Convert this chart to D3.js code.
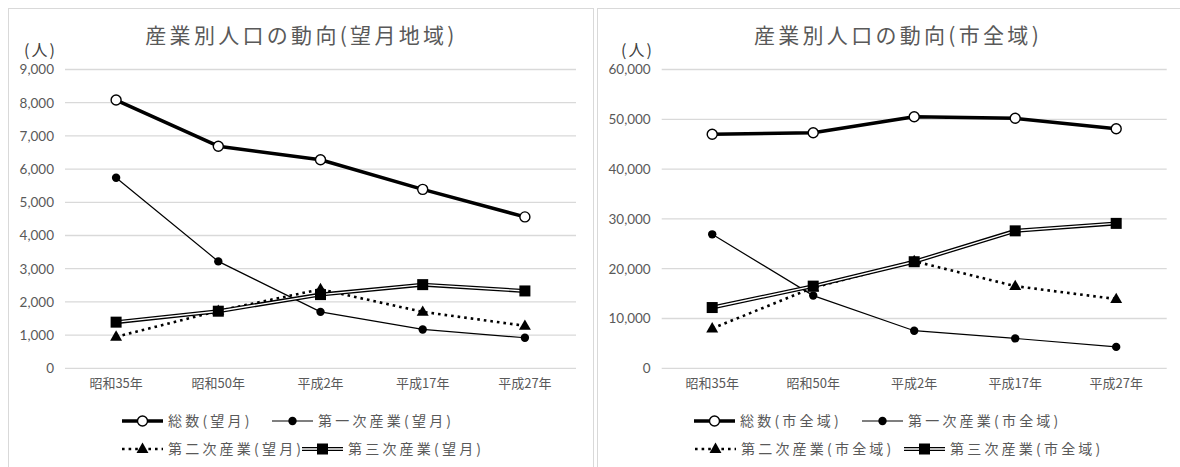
<!DOCTYPE html>
<html lang="ja">
<head>
<meta charset="utf-8">
<script src="https://cdn.jsdelivr.net/npm/d3@7"></script>
<style>
  html, body { margin: 0; padding: 0; background: #fff; }
  svg { display: block; }
</style>
</head>
<body>
<svg id="chart" width="1180" height="467"></svg>
<script>
// 年次
const categories = ["昭和35年", "昭和50年", "平成2年", "平成17年", "平成27年"];

// 望月地域（人）
const totalMochizuki     = [8080, 6690, 6280, 5390, 4560];
const primaryMochizuki   = [5740, 3220, 1700, 1170, 920];
const secondaryMochizuki = [950, 1730, 2380, 1700, 1280];
const tertiaryMochizuki  = [1390, 1720, 2220, 2520, 2330];
const ticksMochizuki     = [0, 1000, 2000, 3000, 4000, 5000, 6000, 7000, 8000, 9000];

// 市全域（人）
const totalCity     = [47000, 47300, 50500, 50200, 48100];
const primaryCity   = [26900, 14600, 7550, 6000, 4300];
const secondaryCity = [8000, 16200, 21500, 16500, 13900];
const tertiaryCity  = [12200, 16500, 21400, 27600, 29100];
const ticksCity     = [0, 10000, 20000, 30000, 40000, 50000, 60000];

const svg = d3.select("#chart");
const JP = "'Noto Sans CJK JP', sans-serif";
const NUM = "Lato, 'Noto Sans CJK JP', sans-serif";
const TEXT = "#595959";

const fmt = d3.format(",");

function drawChart(cfg) {
  const g = svg.append("g");

  // 外枠
  g.append("rect")
    .attr("x", cfg.frameX + 0.5).attr("y", 8.5)
    .attr("width", cfg.frameW).attr("height", 480)
    .attr("fill", "#fff").attr("stroke", "#d9d9d9").attr("stroke-width", 1);

  // タイトル
  g.append("text")
    .attr("x", cfg.frameX + cfg.frameW / 2 + 1).attr("y", 43)
    .attr("text-anchor", "middle")
    .attr("font-family", JP).attr("font-size", 21)
    .attr("letter-spacing", 3.3)
    .attr("fill", TEXT)
    .text(cfg.title);

  // 単位
  g.append("text")
    .attr("x", cfg.unitX).attr("y", 56)
    .attr("font-family", JP).attr("font-size", 16)
    .attr("letter-spacing", 2)
    .attr("fill", "#404040")
    .text("(人)");

  const x = d3.scaleBand().domain(categories).range([cfg.left, cfg.right]);
  const y = d3.scaleLinear().domain([0, d3.max(cfg.ticks)]).range([368.3, 69.5]);

  // 目盛線
  g.append("g")
    .selectAll("line").data(cfg.ticks).join("line")
    .attr("x1", cfg.left).attr("x2", cfg.right)
    .attr("y1", d => y(d)).attr("y2", d => y(d))
    .attr("stroke", "#d9d9d9").attr("stroke-width", 1.3);

  // 縦軸ラベル
  const yAxis = d3.axisLeft(y).tickValues(cfg.ticks).tickFormat(fmt).tickSize(0).tickPadding(0);
  const ya = g.append("g").attr("transform", `translate(${cfg.left - 11},0)`).call(yAxis);
  ya.select(".domain").remove();
  ya.selectAll("text").attr("font-family", NUM).attr("font-size", 13.5).attr("fill", TEXT);

  // 横軸ラベル
  const xAxis = d3.axisBottom(x).tickSize(0).tickPadding(0);
  const xa = g.append("g").attr("transform", "translate(0,379)").call(xAxis);
  xa.select(".domain").remove();
  xa.selectAll("text").attr("font-family", JP).attr("font-size", 13).attr("fill", TEXT);

  const cx = (d, i) => x(categories[i]) + x.bandwidth() / 2;
  const line = d3.line().x((d, i) => cx(d, i)).y(d => y(d));

  const plot = g.append("g");

  // 総数
  plot.append("path").attr("d", line(cfg.total))
    .attr("fill", "none").attr("stroke", "#000").attr("stroke-width", 3.5)
    .attr("stroke-linejoin", "round");
  plot.selectAll(".tot").data(cfg.total).join("circle")
    .attr("cx", cx).attr("cy", d => y(d)).attr("r", 5)
    .attr("fill", "#fff").attr("stroke", "#000").attr("stroke-width", 1.4);

  // 第一次産業
  plot.append("path").attr("d", line(cfg.primary))
    .attr("fill", "none").attr("stroke", "#000").attr("stroke-width", 1.2);
  plot.selectAll(".pri").data(cfg.primary).join("circle")
    .attr("cx", cx).attr("cy", d => y(d)).attr("r", 4.2)
    .attr("fill", "#000");

  // 第二次産業
  plot.append("path").attr("d", line(cfg.secondary))
    .attr("fill", "none").attr("stroke", "#000").attr("stroke-width", 2.6)
    .attr("stroke-dasharray", "2.6,4");
  const tri = d3.symbol().type(d3.symbolTriangle).size(62);
  plot.selectAll(".sec").data(cfg.secondary).join("path")
    .attr("d", tri)
    .attr("transform", (d, i) => `translate(${cx(d, i)},${y(d) + 0.5})`)
    .attr("fill", "#000");

  // 第三次産業（二重線）
  plot.append("path").attr("d", line(cfg.tertiary))
    .attr("fill", "none").attr("stroke", "#000").attr("stroke-width", 4);
  plot.append("path").attr("d", line(cfg.tertiary))
    .attr("fill", "none").attr("stroke", "#fff").attr("stroke-width", 1.4);
  plot.selectAll(".ter").data(cfg.tertiary).join("rect")
    .attr("x", (d, i) => cx(d, i) - 5.5).attr("y", d => y(d) - 5.5)
    .attr("width", 11).attr("height", 11)
    .attr("fill", "#000");

  // 凡例
  const legend = g.append("g");
  cfg.legend.forEach(item => {
    const lg = legend.append("g").attr("transform", `translate(${item.x},${item.y})`);
    const L = 41, mid = L / 2;
    if (item.kind === "total") {
      lg.append("line").attr("x1", 0).attr("x2", L).attr("stroke", "#000").attr("stroke-width", 3.5);
      lg.append("circle").attr("cx", mid).attr("r", 5).attr("fill", "#fff").attr("stroke", "#000").attr("stroke-width", 1.4);
    } else if (item.kind === "primary") {
      lg.append("line").attr("x1", 0).attr("x2", L).attr("stroke", "#000").attr("stroke-width", 1.2);
      lg.append("circle").attr("cx", mid).attr("r", 4.2).attr("fill", "#000");
    } else if (item.kind === "secondary") {
      lg.append("line").attr("x1", 0).attr("x2", L).attr("stroke", "#000").attr("stroke-width", 2.6)
        .attr("stroke-dasharray", "2.6,4");
      lg.append("path").attr("d", tri).attr("transform", `translate(${mid},0.5)`).attr("fill", "#000");
    } else {
      lg.append("line").attr("x1", 0).attr("x2", L).attr("stroke", "#000").attr("stroke-width", 4);
      lg.append("line").attr("x1", 0).attr("x2", L).attr("stroke", "#fff").attr("stroke-width", 1.4);
      lg.append("rect").attr("x", mid - 5.5).attr("y", -5.5).attr("width", 11).attr("height", 11).attr("fill", "#000");
    }
    lg.append("text").attr("x", L + 5).attr("y", 0).attr("dy", "0.35em")
      .attr("font-family", JP).attr("font-size", 14).attr("letter-spacing", 3.2)
      .attr("fill", TEXT).text(item.label);
  });
}

drawChart({
  frameX: 8, frameW: 585,
  title: "産業別人口の動向(望月地域)",
  unitX: 24,
  left: 65, right: 576,
  ticks: ticksMochizuki,
  total: totalMochizuki, primary: primaryMochizuki,
  secondary: secondaryMochizuki, tertiary: tertiaryMochizuki,
  legend: [
    { kind: "total", label: "総数(望月)", x: 122, y: 421 },
    { kind: "primary", label: "第一次産業(望月)", x: 272, y: 421 },
    { kind: "secondary", label: "第二次産業(望月)", x: 122, y: 449 },
    { kind: "tertiary", label: "第三次産業(望月)", x: 302, y: 449 }
  ]
});

drawChart({
  frameX: 597, frameW: 600,
  title: "産業別人口の動向(市全域)",
  unitX: 621,
  left: 661.7, right: 1166.7,
  ticks: ticksCity,
  total: totalCity, primary: primaryCity,
  secondary: secondaryCity, tertiary: tertiaryCity,
  legend: [
    { kind: "total", label: "総数(市全域)", x: 694, y: 421 },
    { kind: "primary", label: "第一次産業(市全域)", x: 862, y: 421 },
    { kind: "secondary", label: "第二次産業(市全域)", x: 695, y: 449 },
    { kind: "tertiary", label: "第三次産業(市全域)", x: 904, y: 449 }
  ]
});
</script>
</body>
</html>
